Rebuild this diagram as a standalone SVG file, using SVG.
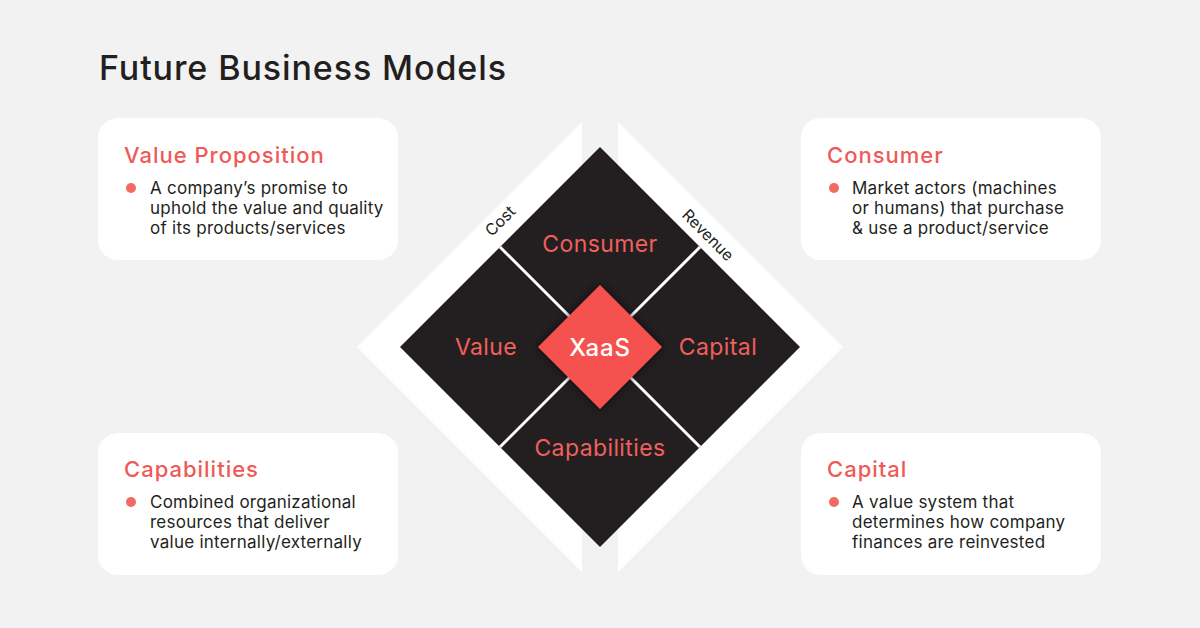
<svg xmlns="http://www.w3.org/2000/svg" width="1200" height="628" viewBox="0 0 1200 628">
<defs>
<style>
.card{fill:#ffffff}
.ttl{font-family:Inter,"Liberation Sans",sans-serif;font-size:22px;fill:#ef5a57;font-weight:500;letter-spacing:1px}
.body{font-family:Inter,"Liberation Sans",sans-serif;font-size:17px;fill:#231f20;letter-spacing:0.25px}
.dot{fill:#f26b63}
.lbl{font-family:Inter,"Liberation Sans",sans-serif;font-size:23px;fill:#f0605c;text-anchor:middle;letter-spacing:0.4px}
.axis{font-family:Inter,"Liberation Sans",sans-serif;font-size:16px;fill:#231f20;text-anchor:middle}
.div{stroke:#ffffff;stroke-width:3}
</style>
<filter id="sh" x="-30%" y="-30%" width="160%" height="160%">
<feDropShadow dx="0" dy="0" stdDeviation="5" flood-color="#000" flood-opacity="0.7"/>
</filter>
</defs>
<rect width="1200" height="628" fill="#f2f2f2"/>
<text x="99" y="80" font-family="Inter,'Liberation Sans',sans-serif" font-size="34" font-weight="500" letter-spacing="0.9" fill="#231f20">Future Business Models</text>

<g id="frame">
<polygon points="582,122 357,347 582,572" fill="#ffffff"/>
<polygon points="618,122 843,347 618,572" fill="#ffffff"/>
<text class="axis" transform="translate(504,225) rotate(-45)">Cost</text>
<text class="axis" transform="translate(704,239) rotate(45)">Revenue</text>
</g>

<g id="quadrants">
<polygon points="600,147 800,347 600,547 400,347" fill="#231f20"/>
</g>
<g id="connectors">
<line class="div" x1="500" y1="247" x2="700" y2="447"/>
<line class="div" x1="700" y1="247" x2="500" y2="447"/>
</g>
<g id="node-consumer"><text class="lbl" x="600" y="252">Consumer</text></g>
<g id="node-value"><text class="lbl" x="486" y="355">Value</text></g>
<g id="node-capital"><text class="lbl" x="718" y="355">Capital</text></g>
<g id="node-capabilities"><text class="lbl" x="600" y="456">Capabilities</text></g>
<g id="node-xaas">
<polygon points="600,285 662,347 600,409 538,347" fill="#f5514f" filter="url(#sh)"/>
<text x="600" y="356" font-family="Inter,'Liberation Sans',sans-serif" font-size="24" font-weight="500" letter-spacing="0.8" fill="#ffffff" text-anchor="middle">XaaS</text>
</g>

<g id="card-value-proposition">
<rect class="card" x="98" y="118" width="300" height="142" rx="20"/>
<text class="ttl" x="124" y="163">Value Proposition</text>
<circle class="dot" cx="131" cy="188" r="5"/>
<text class="body" x="150" y="194">A company’s promise to</text>
<text class="body" x="150" y="214">uphold the value and quality</text>
<text class="body" x="150" y="234">of its products/services</text>
</g>
<g id="card-consumer">
<rect class="card" x="801" y="118" width="300" height="142" rx="20"/>
<text class="ttl" x="827" y="163">Consumer</text>
<circle class="dot" cx="834" cy="188" r="5"/>
<text class="body" x="852" y="194">Market actors (machines</text>
<text class="body" x="852" y="214">or humans) that purchase</text>
<text class="body" x="852" y="234">&amp; use a product/service</text>
</g>
<g id="card-capabilities">
<rect class="card" x="98" y="433" width="300" height="142" rx="20"/>
<text class="ttl" x="124" y="477">Capabilities</text>
<circle class="dot" cx="131" cy="502" r="5"/>
<text class="body" x="150" y="508">Combined organizational</text>
<text class="body" x="150" y="528">resources that deliver</text>
<text class="body" x="150" y="548">value internally/externally</text>
</g>
<g id="card-capital">
<rect class="card" x="801" y="433" width="300" height="142" rx="20"/>
<text class="ttl" x="827" y="477">Capital</text>
<circle class="dot" cx="834" cy="502" r="5"/>
<text class="body" x="852" y="508">A value system that</text>
<text class="body" x="852" y="528">determines how company</text>
<text class="body" x="852" y="548">finances are reinvested</text>
</g>
</svg>
